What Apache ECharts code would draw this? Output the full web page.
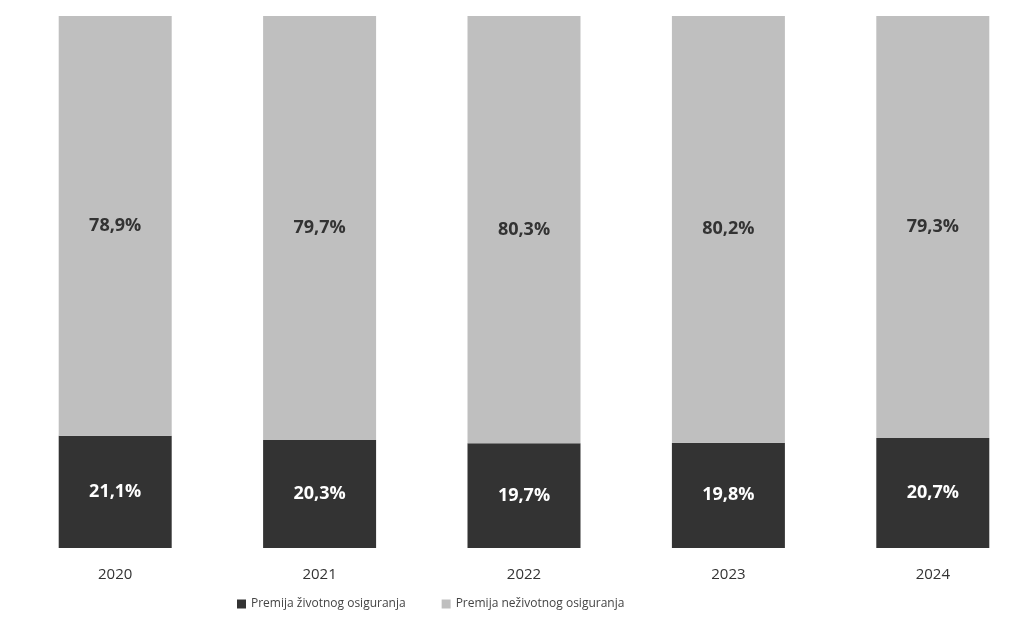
<!DOCTYPE html>
<html>
<head>
<meta charset="utf-8">
<script src="https://cdn.jsdelivr.net/npm/echarts@6/dist/echarts.min.js"></script>
<style>
  html, body { margin: 0; padding: 0; background: #ffffff; }
  #chart { width: 1021px; height: 623px; }
</style>
</head>
<body>
<div id="chart"></div>
<script>
const years = ['2020', '2021', '2022', '2023', '2024']
const zivotno = [21.1, 20.3, 19.7, 19.8, 20.7]
const nezivotno = [78.9, 79.7, 80.3, 80.2, 79.3]

const fmt = p => p.value.toFixed(1).replace('.', ',') + '%'

const chart = echarts.init(document.getElementById('chart'))
chart.setOption({
  animation: false,
  backgroundColor: '#ffffff',
  textStyle: { fontFamily: 'Open Sans' },
  legend: {
    bottom: 8,
    left: 232,
    itemWidth: 9,
    itemHeight: 9,
    itemGap: 36,
    icon: 'rect',
    textStyle: { color: '#444', fontSize: 12 },
    data: ['Premija životnog osiguranja', 'Premija neživotnog osiguranja']
  },
  grid: { left: 13, width: 1022, top: 16, bottom: 75, outerBoundsMode: 'none', containLabel: false },
  xAxis: {
    type: 'category',
    data: years,
    axisLine: { show: false },
    axisTick: { show: false },
    axisLabel: { color: '#333', fontSize: 15, margin: 19 }
  },
  yAxis: {
    type: 'value',
    min: 0,
    max: 100,
    show: false
  },
  series: [
    {
      name: 'Premija životnog osiguranja',
      type: 'bar',
      stack: 'total',
      barWidth: 113,
      itemStyle: { color: '#333333' },
      label: {
        show: true,
        position: 'inside',
        formatter: fmt,
        color: '#ffffff',
        fontWeight: 'bold',
        fontSize: 18
      },
      data: zivotno
    },
    {
      name: 'Premija neživotnog osiguranja',
      type: 'bar',
      stack: 'total',
      barWidth: 113,
      itemStyle: { color: '#bfbfbf' },
      label: {
        show: true,
        position: 'inside',
        formatter: fmt,
        color: '#333333',
        fontWeight: 'bold',
        fontSize: 18
      },
      data: nezivotno
    }
  ]
})
</script>
</body>
</html>
